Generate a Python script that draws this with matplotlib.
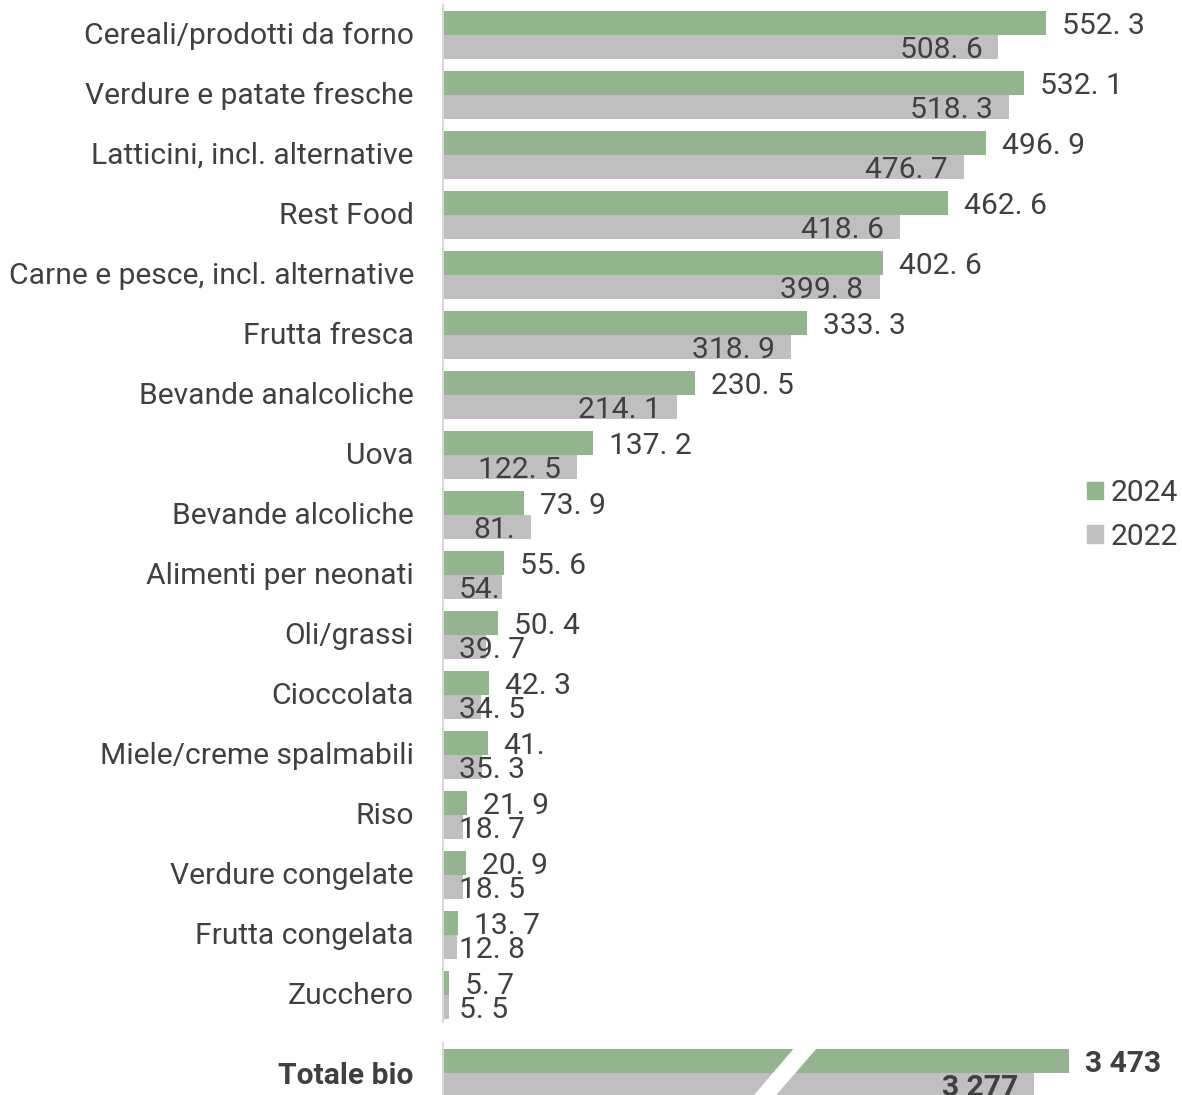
import matplotlib.pyplot as plt
from matplotlib.patches import Polygon, Patch

categories = ['Cereali/prodotti da forno', 'Verdure e patate fresche', 'Latticini, incl. alternative',
              'Rest Food', 'Carne e pesce, incl. alternative', 'Frutta fresca', 'Bevande analcoliche',
              'Uova', 'Bevande alcoliche', 'Alimenti per neonati', 'Oli/grassi', 'Cioccolata',
              'Miele/creme spalmabili', 'Riso', 'Verdure congelate', 'Frutta congelata', 'Zucchero']
v2024 = [552.3, 532.1, 496.9, 462.6, 402.6, 333.3, 230.5, 137.2, 73.9, 55.6, 50.4, 42.3, 41.0, 21.9, 20.9, 13.7, 5.7]
v2022 = [508.6, 518.3, 476.7, 418.6, 399.8, 318.9, 214.1, 122.5, 81.0, 54.0, 39.7, 34.5, 35.3, 18.7, 18.5, 12.8, 5.5]
lab2024 = ['552. 3', '532. 1', '496. 9', '462. 6', '402. 6', '333. 3', '230. 5', '137. 2', '73. 9', '55. 6',
           '50. 4', '42. 3', '41.', '21. 9', '20. 9', '13. 7', '5. 7']
lab2022 = ['508. 6', '518. 3', '476. 7', '418. 6', '399. 8', '318. 9', '214. 1', '122. 5', '81.', '54.',
           '39. 7', '34. 5', '35. 3', '18. 7', '18. 5', '12. 8', '5. 5']
total_label = 'Totale bio'
total = {'2024': 3473, '2022': 3277}
total_txt = {'2024': '3 473', '2022': '3 277'}

GREEN = '#93b48f'
GREY = '#bfbfbf'
TXT = '#404040'
AXC = '#d9d9d9'

plt.rcParams['font.family'] = ['Roboto', 'DejaVu Sans']

W, H = 1182, 1095
fig = plt.figure(figsize=(W / 100, H / 100), dpi=100)

x0 = 443
def box(top, bottom):
    return [x0 / W, 1 - bottom / H, (W - x0) / W, (bottom - top) / H]

ax = fig.add_axes(box(5, 1022))
axt = fig.add_axes(box(1043, 1095))

fs = 21.6

n = len(categories)
ys = list(range(n))
ax.barh([y - 0.2 for y in ys], v2024, height=0.4, color=GREEN, label='2024')
ax.barh([y + 0.2 for y in ys], v2022, height=0.4, color=GREY, label='2022')
ax.set_xlim(0, (W - x0) / 1.092)
ax.set_ylim(16.45, -0.5)
ax.set_yticks([y - 0.04 for y in ys])
ax.set_yticklabels(categories, fontsize=fs, color=TXT)

axt.barh([-0.2], [total['2024']], height=0.4, color=GREEN)
axt.barh([0.2], [total['2022']], height=0.4, color=GREY)
axt.set_xlim(0, (W - x0) / 0.1803)
axt.set_ylim(0.367, -0.5)
axt.set_yticks([0])
axt.set_yticklabels([total_label], fontsize=fs, color=TXT, fontweight='bold')

for a in (ax, axt):
    for s in ['top', 'right', 'bottom']:
        a.spines[s].set_visible(False)
    a.spines['left'].set_color(AXC)
    a.spines['left'].set_linewidth(1.5)
    a.set_xticks([])
    a.tick_params(axis='y', length=0, pad=21)

# break mark on the total bars
gap = Polygon([(0.481, 1.0), (0.512, 1.0), (0.451, 0.0), (0.421, 0.0)],
              closed=True, transform=axt.transAxes, facecolor='white', edgecolor='none', zorder=3)
axt.add_patch(gap)

off = 11.5  # 16 px in points
for y, v, t in zip(ys, v2024, lab2024):
    ax.annotate(t, (v, y - 0.2), xytext=(off, 0), textcoords='offset points',
                ha='left', va='center_baseline', fontsize=fs, color=TXT)
gtexts = []
for y, v, t in zip(ys, v2022, lab2022):
    gtexts.append(ax.annotate(t, (v, y + 0.2), xytext=(-off, 0), textcoords='offset points',
                              ha='right', va='center_baseline', fontsize=fs, color=TXT))

axt.annotate(total_txt['2024'], (total['2024'], -0.2), xytext=(off, 0), textcoords='offset points',
             ha='left', va='center_baseline', fontsize=fs, color=TXT, fontweight='bold', zorder=5)
axt.annotate(total_txt['2022'], (total['2022'], 0.2), xytext=(-off, 0), textcoords='offset points',
             ha='right', va='center_baseline', fontsize=fs, color=TXT, fontweight='bold', zorder=5)

# keep grey labels from running past the axis
fig.canvas.draw()
r = fig.canvas.get_renderer()
for tx in gtexts:
    bb = tx.get_window_extent(r)
    if bb.x0 < x0 + 16:
        tx.set_horizontalalignment('left')
        tx.xy = (0, tx.xy[1])
        tx.set_position((off, 0))

handles = [Patch(color=GREEN), Patch(color=GREY)]
fig.legend(handles, ['2024', '2022'], loc='center left', bbox_to_anchor=(1087 / W, 1 - 515 / H),
           frameon=False, fontsize=fs, handlelength=0.53, handleheight=0.53, handletextpad=0.25,
           labelspacing=0.52, labelcolor=TXT, borderpad=0, borderaxespad=0)

fig.savefig('out.png', dpi=100)
